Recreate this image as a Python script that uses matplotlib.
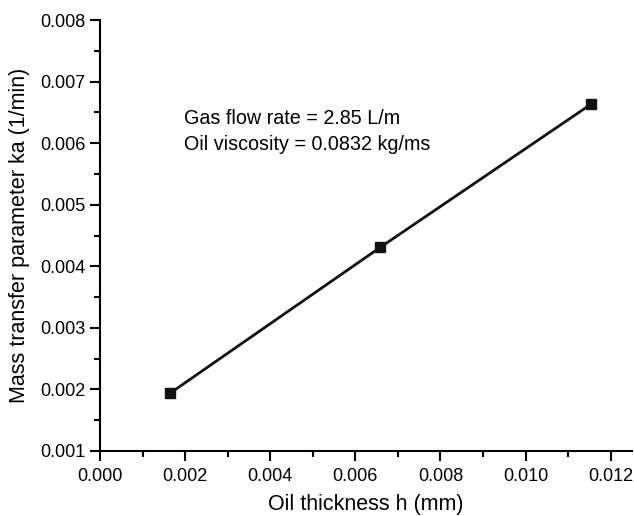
import numpy as np
import matplotlib.pyplot as plt
from matplotlib.ticker import MultipleLocator

plt.rcParams['font.family'] = ['Liberation Sans', 'DejaVu Sans']

# data
thickness = [0.00165, 0.00659, 0.01153]   # mm
ka = [0.00194, 0.00431, 0.00663]          # 1/min
notes = ["Gas flow rate = 2.85 L/m", "Oil viscosity = 0.0832 kg/ms"]

fig = plt.figure(figsize=(6.34, 5.16), dpi=100)
ax = fig.add_axes([0.1577, 0.126, 0.839, 0.835])

ax.plot(thickness, ka, color='#111111', lw=2, marker='s', ms=7, mfc='#111111', mec='#111111')

ax.set_xlim(0, 0.0125)
ax.set_ylim(0.001, 0.008)
ax.xaxis.set_major_locator(MultipleLocator(0.002))
ax.xaxis.set_minor_locator(MultipleLocator(0.001))
ax.yaxis.set_major_locator(MultipleLocator(0.001))
ax.yaxis.set_minor_locator(MultipleLocator(0.0005))
ax.xaxis.set_major_formatter(lambda v, p: f"{v:.3f}")
ax.yaxis.set_major_formatter(lambda v, p: f"{v:.3f}")

for s in ['top', 'right']:
    ax.spines[s].set_visible(False)
for s in ['left', 'bottom']:
    ax.spines[s].set_linewidth(1.5)
ax.tick_params(which='major', direction='out', length=7, width=1.5, labelsize=13)
ax.tick_params(axis='x', which='major', pad=5)
ax.tick_params(which='minor', direction='out', length=4, width=1.5)

ax.set_xlabel("Oil thickness h (mm)", fontsize=15.5, labelpad=7)
ax.set_ylabel("Mass transfer parameter ka (1/min)", fontsize=15.5, labelpad=7)

ax.text(0.00198, 0.00632, notes[0], fontsize=14.2, va='baseline')
ax.text(0.00198, 0.00589, notes[1], fontsize=14.2, va='baseline')

fig.savefig("out.png", dpi=100)
